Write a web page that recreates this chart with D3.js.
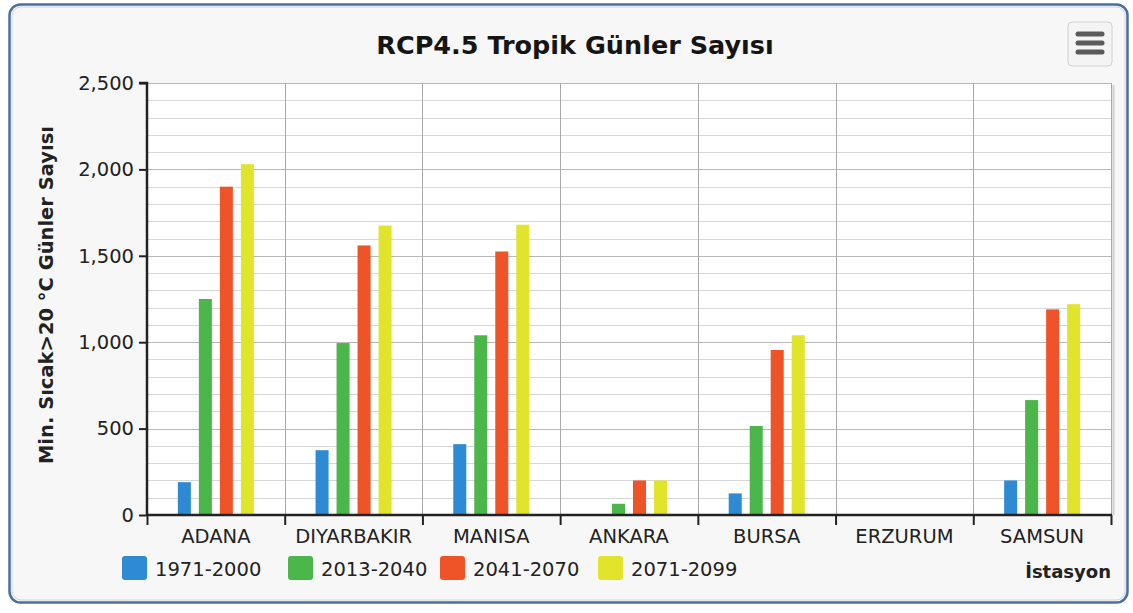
<!DOCTYPE html>
<html>
<head>
<meta charset="utf-8">
<script src="https://cdn.jsdelivr.net/npm/d3@7"></script>
<style>
  html, body { margin: 0; padding: 0; background: #ffffff; }
  svg { display: block; }
  text { font-family: "DejaVu Sans", Verdana, sans-serif; }
</style>
</head>
<body>
<svg id="chart" width="1133" height="613"></svg>
<script>
// Stations (x categories)
const categories = ["ADANA", "DIYARBAKIR", "MANISA", "ANKARA", "BURSA", "ERZURUM", "SAMSUN"];
// Periods (series)
const periods = ["1971-2000", "2013-2040", "2041-2070", "2071-2099"];
// Number of tropical days per period, one value per station
const v1971_2000 = [190, 375, 410, 0, 125, 0, 200];
const v2013_2040 = [1250, 995, 1040, 65, 515, 0, 665];
const v2041_2070 = [1900, 1560, 1525, 200, 955, 0, 1190];
const v2071_2099 = [2030, 1675, 1680, 200, 1040, 0, 1220];
// Y axis ticks
const yTicks = [0, 500, 1000, 1500, 2000, 2500];
const yMinorStep = 100;

const seriesValues = [v1971_2000, v2013_2040, v2041_2070, v2071_2099];
const colors = ["#2e8bd3", "#4bb64a", "#ef5428", "#e2e42c"];

const svg = d3.select("#chart");
const plot = { left: 147, right: 1111, top: 83, bottom: 515 };

// Outer frame
svg.append("rect")
  .attr("x", 9.5).attr("y", 4.5)
  .attr("width", 1118).attr("height", 598)
  .attr("rx", 11).attr("ry", 11)
  .attr("fill", "#f7f7f7")
  .attr("stroke", "#4d6f9c")
  .attr("stroke-width", 2.5);
svg.append("rect")
  .attr("x", 12).attr("y", 7)
  .attr("width", 1113).attr("height", 593)
  .attr("rx", 9).attr("ry", 9)
  .attr("fill", "none")
  .attr("stroke", "#c9d6e6")
  .attr("stroke-width", 1);

// Scales
const x0 = d3.scaleBand()
  .domain(categories)
  .range([plot.left, plot.right])
  .paddingInner(0).paddingOuter(0);

const groupHalf = 42;
const x1 = d3.scaleBand()
  .domain(periods)
  .range([x0.bandwidth() / 2 - groupHalf, x0.bandwidth() / 2 + groupHalf])
  .paddingInner(0.38).paddingOuter(0.19);

const y = d3.scaleLinear()
  .domain([0, 2500])
  .range([plot.bottom, plot.top]);

// Plot background
svg.append("rect")
  .attr("x", plot.left).attr("y", plot.top)
  .attr("width", plot.right - plot.left).attr("height", plot.bottom - plot.top)
  .attr("fill", "#ffffff");

// Minor grid
const minor = d3.range(0, 2500 + 1, yMinorStep).filter(v => v % 500 !== 0);
svg.append("g")
  .selectAll("line")
  .data(minor)
  .join("line")
  .attr("x1", plot.left).attr("x2", plot.right)
  .attr("y1", d => Math.round(y(d)) + 0.5).attr("y2", d => Math.round(y(d)) + 0.5)
  .attr("stroke", "#d8d8d8").attr("stroke-width", 1);

// Major grid
svg.append("g")
  .selectAll("line")
  .data(yTicks.filter(v => v > 0))
  .join("line")
  .attr("x1", plot.left).attr("x2", plot.right)
  .attr("y1", d => Math.round(y(d)) + 0.5).attr("y2", d => Math.round(y(d)) + 0.5)
  .attr("stroke", "#b8b8b8").attr("stroke-width", 1.2);

// Vertical category separators
const bounds = categories.slice(1).map(c => x0(c)).concat([plot.right]);
svg.append("g")
  .selectAll("line")
  .data(bounds)
  .join("line")
  .attr("x1", d => Math.round(d) + 0.5).attr("x2", d => Math.round(d) + 0.5)
  .attr("y1", plot.top).attr("y2", plot.bottom)
  .attr("stroke", "#a9a9a9").attr("stroke-width", 1);

// Right edge shadow of the plot
svg.append("line")
  .attr("x1", plot.right + 2.5).attr("x2", plot.right + 2.5)
  .attr("y1", plot.top + 2).attr("y2", plot.bottom)
  .attr("stroke", "#cfcfcf").attr("stroke-width", 2);

// Bars
const groups = svg.append("g")
  .selectAll("g")
  .data(categories)
  .join("g")
  .attr("transform", d => `translate(${x0(d)},0)`);

groups.selectAll("rect")
  .data((c, i) => periods.map((p, k) => ({ period: p, value: seriesValues[k][i], color: colors[k] })))
  .join("rect")
  .filter(d => d.value > 0)
  .attr("x", d => x1(d.period))
  .attr("width", x1.bandwidth())
  .attr("y", d => y(d.value))
  .attr("height", d => y(0) - y(d.value))
  .attr("fill", d => d.color);

// Y axis
const yAxis = d3.axisLeft(y)
  .tickValues(yTicks)
  .tickFormat(d3.format(","))
  .tickSize(8)
  .tickPadding(5);
const gy = svg.append("g")
  .attr("transform", `translate(${plot.left},0)`)
  .call(yAxis);
gy.select(".domain").attr("stroke", "#222").attr("stroke-width", 2.5)
  .attr("d", `M-8,${plot.top}H0V${plot.bottom}`);
gy.selectAll(".tick line").attr("stroke", "#222").attr("stroke-width", 2);
gy.selectAll(".tick text")
  .attr("fill", "#222")
  .style("font-size", "19.5px")
  .style("font-family", "'DejaVu Sans', Verdana, sans-serif");

// X axis
const xAxis = d3.axisBottom(x0).tickSize(0).tickPadding(14);
const gx = svg.append("g")
  .attr("transform", `translate(0,${plot.bottom})`)
  .call(xAxis);
gx.select(".domain").attr("stroke", "#222").attr("stroke-width", 2.5)
  .attr("d", `M${plot.left},0H${plot.right + 1}`);
gx.selectAll(".tick text")
  .attr("fill", "#222")
  .style("font-size", "19.5px")
  .style("font-family", "'DejaVu Sans', Verdana, sans-serif");
// Boundary tick marks below the x axis
gx.append("g")
  .selectAll("line")
  .data([plot.left].concat(bounds))
  .join("line")
  .attr("x1", d => d + 0.5).attr("x2", d => d + 0.5)
  .attr("y1", 0).attr("y2", 10)
  .attr("stroke", "#222").attr("stroke-width", 2);

// Title
svg.append("text")
  .attr("x", 575).attr("y", 54)
  .attr("text-anchor", "middle")
  .attr("fill", "#151515")
  .style("font-size", "25.5px")
  .style("font-weight", "bold")
  .text("RCP4.5 Tropik Günler Sayısı");

// Y axis title
svg.append("text")
  .attr("transform", `translate(53,295) rotate(-90)`)
  .attr("text-anchor", "middle")
  .attr("fill", "#222")
  .style("font-size", "19.5px")
  .style("font-weight", "bold")
  .text("Min. Sıcak>20 °C Günler Sayısı");

// X axis title
svg.append("text")
  .attr("x", plot.right).attr("y", 578)
  .attr("text-anchor", "end")
  .attr("fill", "#222")
  .style("font-size", "18px")
  .style("font-weight", "bold")
  .text("İstasyon");

// Legend
const legendX = [122, 288, 440, 598];
const legend = svg.append("g")
  .selectAll("g")
  .data(periods)
  .join("g")
  .attr("transform", (d, i) => `translate(${legendX[i]},556)`);
legend.append("rect")
  .attr("width", 25).attr("height", 24)
  .attr("rx", 3).attr("ry", 3)
  .attr("fill", (d, i) => colors[i]);
legend.append("text")
  .attr("x", 33).attr("y", 20)
  .attr("fill", "#222")
  .style("font-size", "19.5px")
  .text(d => d);

// Menu button
const menu = svg.append("g").attr("transform", "translate(1068,22)");
menu.append("rect")
  .attr("width", 44).attr("height", 44)
  .attr("rx", 4).attr("ry", 4)
  .attr("fill", "#f4f4f4")
  .attr("stroke", "#d0d0d0").attr("stroke-width", 1);
menu.selectAll("line")
  .data([12, 21, 30])
  .join("line")
  .attr("x1", 10).attr("x2", 34)
  .attr("y1", d => d).attr("y2", d => d)
  .attr("stroke", "#5a5a5a")
  .attr("stroke-width", 5)
  .attr("stroke-linecap", "round");
</script>
</body>
</html>
